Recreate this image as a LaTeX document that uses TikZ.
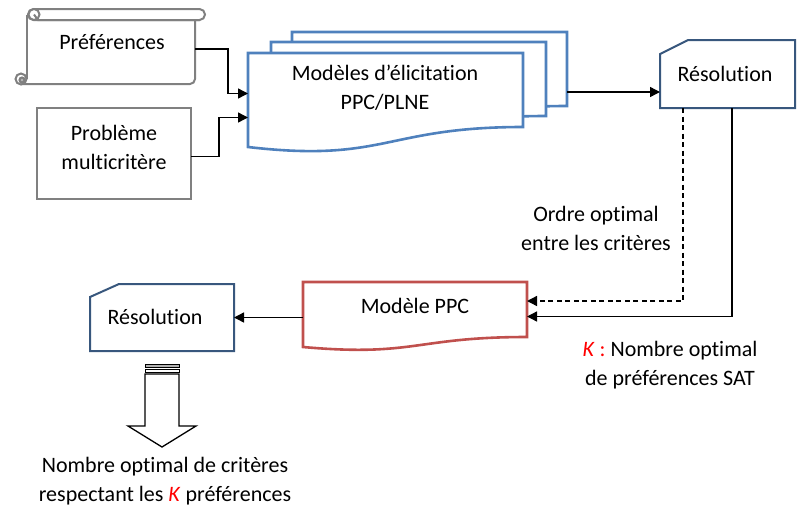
\documentclass[tikz,border=0pt]{standalone}
\usepackage{fontspec}
\setmainfont[Ligatures=NoCommon]{Carlito}
\usetikzlibrary{arrows.meta}

\definecolor{bleuoffice}{RGB}{79,129,189}
\definecolor{marine}{RGB}{56,87,125}
\definecolor{rougeoffice}{RGB}{192,80,77}
\definecolor{grisbord}{RGB}{128,128,128}

\tikzset{
  zone/.style 2 args={minimum width=#1, minimum height=#2, inner sep=0pt, outer sep=0pt},
  texte/.style={font=\fontsize{22}{29}\selectfont, align=center, inner sep=0pt},
  fleche/.style={-{Triangle[length=10pt,width=10pt]}, line width=1.4pt},
  parchemin/.style={grisbord, line width=2pt},
  modele/.style={bleuoffice, line width=2.6pt, fill=white},
  carte/.style={marine, line width=2pt}
}

\begin{document}
\begin{tikzpicture}[x=1pt,y=-1pt]
\useasboundingbox (0,0) rectangle (797,509);

%Zones
\node[zone={168pt}{70pt}] (pref) at (111,49) {};
\node[zone={154pt}{91pt}] (prob) at (114,153.5) {};
\node[zone={275pt}{93pt}] (mod) at (385.5,99.5) {};
\node[zone={275pt}{93pt}] (mod3) at (429.5,78.5) {};
\node[zone={135pt}{68pt}] (res1) at (727.5,74) {};
\node[zone={224pt}{65pt}] (ppc) at (415,314.5) {};
\node[zone={144pt}{67pt}] (res2) at (162,317.5) {};

%Preferences (parchemin)
\draw[parchemin] (27,15) -- (27,79);
\draw[parchemin, rounded corners=5pt] (21,84) -- (195,84) -- (195,20);
\draw[parchemin, fill=white] (21,79) circle[radius=5.5pt];
\draw[parchemin, fill=grisbord!60] (22,80) circle[radius=2.5pt];
\draw[parchemin, fill=white, rounded corners=5.5pt] (28,9) rectangle (205,20);
\draw[parchemin, fill=white] (34,14.5) circle[radius=5.5pt];
\draw[parchemin] (34,14.5) -- (38,20) -- (200,20);

%Probleme
\draw[grisbord, line width=2pt] (prob.north west) rectangle (prob.south east);

%Pile de modeles
\foreach \dx/\dy in {44/-21, 23/-11, 0/0}
  \draw[modele, shift={(\dx,\dy)}] (248,147) -- (248,53) -- (523,53) -- (523,127)
    .. controls (385,127) and (385,163) .. (248,147) -- cycle;

%Resolution
\draw[carte] ([yshift=-14pt]res1.north west) -- ([xshift=28pt]res1.north west) -- (res1.north east)
  -- (res1.south east) -- (res1.south west) -- cycle;
\draw[carte] ([yshift=-13pt]res2.north west) -- ([xshift=29pt]res2.north west) -- (res2.north east)
  -- (res2.south east) -- (res2.south west) -- cycle;

%Modele PPC
\draw[rougeoffice, line width=2.6pt] (ppc.south west) -- (ppc.north west) -- (ppc.north east)
  -- ([yshift=10pt]ppc.south east)
  .. controls ([xshift=-112pt,yshift=10pt]ppc.south east) and ([xshift=112pt,yshift=-10pt]ppc.south west)
  .. (ppc.south west) -- cycle;

%Fleches
\draw[fleche] (pref.east) -- ++(33,0) |- ([yshift=6pt]mod.west);
\draw[fleche] ([yshift=-3pt]prob.east) -- ++(28,0) |- ([yshift=-18pt]mod.west);
\draw[fleche] ([yshift=-18pt]res1.west -| mod3.east) -- ([yshift=-18pt]res1.west);
\draw[fleche, dash pattern=on 5pt off 3.5pt] ([xshift=23pt]res1.south west) |- ([yshift=13.5pt]ppc.east);
\draw[fleche] ([xshift=72pt]res1.south west) |- ([yshift=-2pt]ppc.east);
\draw[fleche] (ppc.west |- res2.east) -- (res2.east);

%Grande fleche
\draw[line width=1.3pt, fill=white] (145,374) -- (145,426) -- (128,426) -- (162,447) -- (196,426)
  -- (179,426) -- (179,374) -- cycle;
\draw[line width=1pt, fill=gray!60] (145,364) rectangle (179,367);
\draw[line width=1pt, fill=white] (145,369.5) rectangle (179,372.5);

%Textes
\node[texte] (pref-t) at (112,42) {Préférences};
\node[texte] (prob-t) at (114,147) {Problème\\multicritère};
\node[texte] (mod-t) at (385,88) {Modèles d’élicitation\\PPC/PLNE};
\node[texte] (res1-t) at (725,74) {Résolution};
\node[texte] (ordre-t) at (596,228.5) {Ordre optimal\\entre les critères};
\node[texte] (ppc-t) at (415,306) {Modèle PPC};
\node[texte] (res2-t) at (155,317) {Résolution};
\node[texte] (k-t) at (670,365) {\textcolor{red}{\textit{K} :} Nombre optimal\\de préférences SAT};
\node[texte] (sortie-t) at (165,481) {Nombre optimal de critères\\respectant les \textcolor{red}{\textit{K}} préférences};

\end{tikzpicture}
\end{document}
